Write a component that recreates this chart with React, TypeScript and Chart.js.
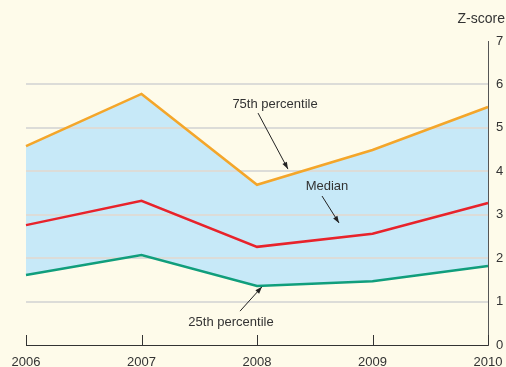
import React, { useEffect, useRef } from "react";
import { Chart, registerables } from "chart.js";

Chart.register(...registerables);

const years = ["2006", "2007", "2008", "2009", "2010"];
const p75 = [4.58, 5.78, 3.69, 4.49, 5.48];
const median = [2.76, 3.32, 2.26, 2.56, 3.27];
const p25 = [1.61, 2.07, 1.36, 1.47, 1.82];
const yTicks = [0, 1, 2, 3, 4, 5, 6, 7];

// annotations in data coordinates (x = category index, y = z-score)
const notes = [
  { text: "75th percentile", x: 2.156, y: 5.53, ax0: 2.009, ay0: 5.34, ax1: 2.268, ay1: 4.05 },
  { text: "Median", x: 2.606, y: 3.64, ax0: 2.563, ay0: 3.43, ax1: 2.71, ay1: 2.81 },
  { text: "25th percentile", x: 1.775, y: 0.53, ax0: 1.853, ay0: 0.78, ax1: 2.043, ay1: 1.34 },
];

const FONT = "'Liberation Sans', Arial, Helvetica, sans-serif";
const TEXT = "#333333";

const decor = {
  id: "decor",
  afterDraw(chart: any) {
    const ctx = chart.ctx;
    const xs = chart.scales.x;
    const ys = chart.scales.y;
    const area = chart.chartArea;
    ctx.save();
    // inward tick marks on x axis
    ctx.strokeStyle = "#333";
    ctx.lineWidth = 1;
    years.forEach((_, i) => {
      const px = Math.round(xs.getPixelForValue(i)) + 0.5;
      ctx.beginPath();
      ctx.moveTo(px, area.bottom);
      ctx.lineTo(px, area.bottom - 10);
      ctx.stroke();
    });
    // Z-score label
    ctx.fillStyle = TEXT;
    ctx.font = `14px ${FONT}`;
    ctx.textAlign = "right";
    ctx.textBaseline = "middle";
    ctx.fillText("Z-score", 505, 19);
    // annotations
    ctx.font = `13px ${FONT}`;
    ctx.textAlign = "center";
    notes.forEach((n) => {
      ctx.fillStyle = TEXT;
      ctx.fillText(n.text, xs.getPixelForValue(n.x), ys.getPixelForValue(n.y));
      const x0 = xs.getPixelForValue(n.ax0);
      const y0 = ys.getPixelForValue(n.ay0);
      const x1 = xs.getPixelForValue(n.ax1);
      const y1 = ys.getPixelForValue(n.ay1);
      ctx.strokeStyle = "#222";
      ctx.lineWidth = 1;
      ctx.beginPath();
      ctx.moveTo(x0, y0);
      ctx.lineTo(x1, y1);
      ctx.stroke();
      const ang = Math.atan2(y1 - y0, x1 - x0);
      const L = 7;
      const W = 2.5;
      ctx.fillStyle = "#222";
      ctx.beginPath();
      ctx.moveTo(x1, y1);
      ctx.lineTo(x1 - L * Math.cos(ang) + W * Math.sin(ang), y1 - L * Math.sin(ang) - W * Math.cos(ang));
      ctx.lineTo(x1 - L * Math.cos(ang) - W * Math.sin(ang), y1 - L * Math.sin(ang) + W * Math.cos(ang));
      ctx.closePath();
      ctx.fill();
    });
    ctx.restore();
  },
};

export default function App() {
  const ref = useRef<HTMLCanvasElement>(null);
  useEffect(() => {
    document.body.style.margin = "0";
    const chart = new Chart(ref.current!, {
      type: "line",
      data: {
        labels: years,
        datasets: [
          {
            label: "75th percentile",
            data: p75,
            borderColor: "#f4a62a",
            borderWidth: 2.5,
            pointRadius: 0,
            tension: 0,
            fill: 2,
            backgroundColor: "#c7e9f8",
          },
          {
            label: "Median",
            data: median,
            borderColor: "#e8232b",
            borderWidth: 2.5,
            pointRadius: 0,
            tension: 0,
            fill: false,
          },
          {
            label: "25th percentile",
            data: p25,
            borderColor: "#109e7c",
            borderWidth: 2.5,
            pointRadius: 0,
            tension: 0,
            fill: false,
          },
        ],
      },
      options: {
        animation: false,
        responsive: false,
        layout: { padding: { top: 41, left: 26, right: 0, bottom: 0 } },
        plugins: {
          legend: { display: false },
          tooltip: { enabled: false },
          filler: { drawTime: "beforeDraw" },
        },
        scales: {
          x: {
            type: "category",
            offset: false,
            grid: { display: false, drawTicks: false },
            border: { display: true, color: "#333", width: 1 },
            ticks: {
              color: TEXT,
              font: { size: 13, family: FONT },
              padding: 10,
              maxRotation: 0,
              autoSkip: false,
            },
            afterFit: (s: any) => {
              s.height = 22;
              s.paddingLeft = 0;
              s.paddingRight = 0;
            },
          },
          y: {
            position: "right",
            min: 0,
            max: 7,
            afterBuildTicks: (s: any) => {
              s.ticks = yTicks.map((v) => ({ value: v }));
            },
            grid: {
              drawTicks: false,
              lineWidth: 2,
              color: (c: any) =>
                c.tick && c.tick.value > 0 && c.tick.value < 7 ? "#dcdcd8" : "rgba(0,0,0,0)",
            },
            border: { display: true, color: "#555", width: 1 },
            ticks: {
              color: TEXT,
              font: { size: 13, family: FONT },
              padding: 8,
            },
            afterFit: (s: any) => {
              s.width = 18;
              s.paddingTop = 0;
              s.paddingBottom = 0;
            },
          },
        },
      },
      plugins: [decor],
    });
    return () => chart.destroy();
  }, []);
  return (
    <div style={{ position: "absolute", left: 0, top: 0, width: 506, height: 367, background: "#fefbea" }}>
      <canvas ref={ref} width={506} height={367} style={{ width: 506, height: 367, display: "block" }} />
    </div>
  );
}
